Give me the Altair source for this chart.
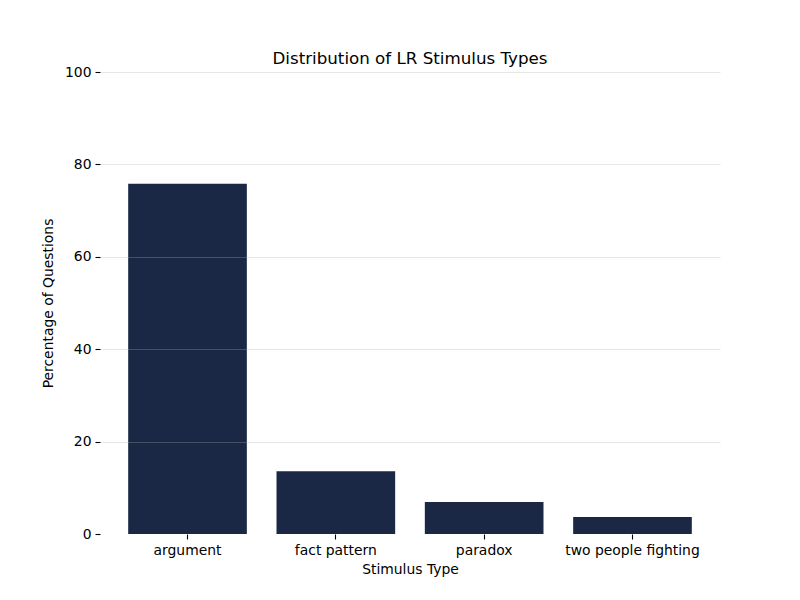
import altair as alt
import pandas as pd

categories = ["argument", "fact pattern", "paradox", "two people fighting"]
percentages = [75.8, 13.6, 6.9, 3.7]

df = pd.DataFrame({"Stimulus Type": categories, "Percentage": percentages})

font = "DejaVu Sans"

chart = alt.Chart(df).mark_bar(color="#1b2845").encode(
    x=alt.X(
        "Stimulus Type:N",
        sort=categories,
        scale=alt.Scale(paddingInner=0.2, paddingOuter=0.19),
        axis=alt.Axis(
            title="Stimulus Type",
            labelAngle=0,
            domain=False,
            ticks=True,
            tickSize=5,
            tickColor="black",
            tickWidth=1.1,
            labelPadding=4,
            labelFontSize=13.9,
            labelColor="black",
            labelFont=font,
            titleFont=font,
            titleFontSize=13.9,
            titleFontWeight="normal",
            titleColor="black",
            titlePadding=6,
            grid=False,
        ),
    ),
    y=alt.Y(
        "Percentage:Q",
        scale=alt.Scale(domain=[0, 100], nice=False),
        axis=alt.Axis(
            title="Percentage of Questions",
            values=[0, 20, 40, 60, 80, 100],
            domain=False,
            ticks=True,
            tickSize=5,
            tickColor="black",
            tickWidth=1.1,
            labelPadding=4,
            labelFontSize=13.9,
            labelColor="black",
            labelFont=font,
            titleFont=font,
            titleFontSize=13.9,
            titleFontWeight="normal",
            titleColor="black",
            titlePadding=9,
            grid=True,
            gridColor="#b0b0b0",
            gridOpacity=alt.ExprRef("datum.value == 0 ? 0 : 0.3"),
            gridWidth=1,
            zindex=1,
        ),
    ),
).properties(
    width=620,
    height=462,
    title=alt.TitleParams(
        "Distribution of LR Stimulus Types",
        font=font,
        fontSize=16.7,
        fontWeight="normal",
        color="black",
        anchor="middle",
        offset=-3,
    ),
    autosize=alt.AutoSizeParams(type="none"),
    padding={"left": 92, "top": 64, "right": 72, "bottom": 58},
).configure_view(stroke=None)

chart.save("out.html", embed_options={"renderer": "svg", "actions": False})
